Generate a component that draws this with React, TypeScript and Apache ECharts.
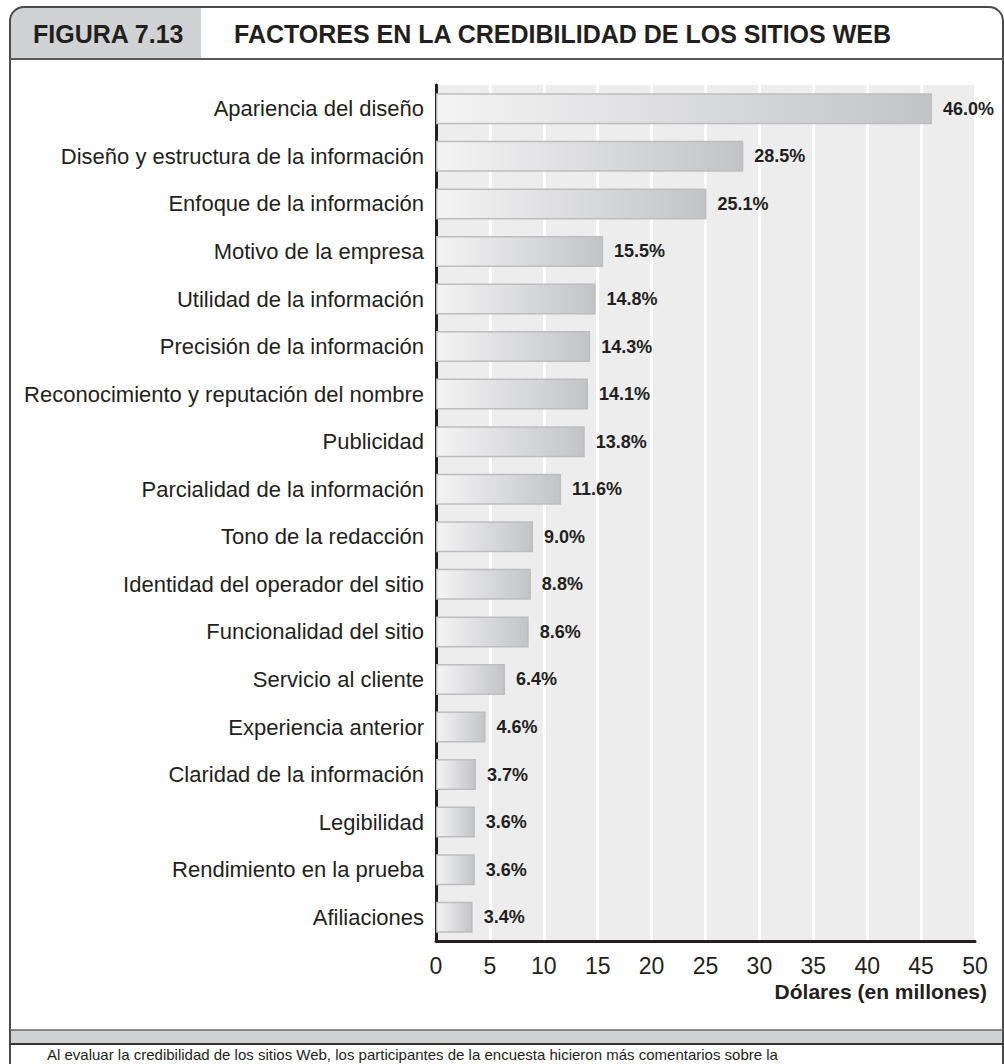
import React, { useEffect, useRef } from "react";
import * as echarts from "echarts";

const categories = [
  "Apariencia del diseño",
  "Diseño y estructura de la información",
  "Enfoque de la información",
  "Motivo de la empresa",
  "Utilidad de la información",
  "Precisión de la información",
  "Reconocimiento y reputación del nombre",
  "Publicidad",
  "Parcialidad de la información",
  "Tono de la redacción",
  "Identidad del operador del sitio",
  "Funcionalidad del sitio",
  "Servicio al cliente",
  "Experiencia anterior",
  "Claridad de la información",
  "Legibilidad",
  "Rendimiento en la prueba",
  "Afiliaciones",
];
const values = [46.0, 28.5, 25.1, 15.5, 14.8, 14.3, 14.1, 13.8, 11.6, 9.0, 8.8, 8.6, 6.4, 4.6, 3.7, 3.6, 3.6, 3.4];
const xTicks = { min: 0, max: 50, interval: 5 };
const figureLabel = "FIGURA 7.13";
const title = "FACTORES EN LA CREDIBILIDAD DE LOS SITIOS WEB";
const xAxisName = "Dólares (en millones)";
const footerText =
  "Al evaluar la credibilidad de los sitios Web, los participantes de la encuesta hicieron más comentarios sobre la";

const NARROW = '"Liberation Sans Narrow", "Liberation Sans", Arial, sans-serif';
const INK = "#231f20";

export default function App() {
  const ref = useRef<HTMLDivElement>(null);
  useEffect(() => {
    const chart = echarts.init(ref.current!, undefined, { renderer: "svg" });
    chart.setOption({
      animation: false,
      backgroundColor: "#ffffff",
      textStyle: { fontFamily: NARROW },
      grid: {
        left: 436,
        right: 29,
        top: 85,
        bottom: 123,
        show: true,
        backgroundColor: "#ededed",
        borderWidth: 0,
      },
      xAxis: {
        type: "value",
        min: xTicks.min,
        max: xTicks.max,
        interval: xTicks.interval,
        axisLine: { show: true, lineStyle: { color: INK, width: 3 } },
        axisTick: { show: false },
        splitLine: { show: true, lineStyle: { color: "#ffffff", width: 3 } },
        axisLabel: { fontSize: 23, color: INK, margin: 13, fontFamily: NARROW },
        name: xAxisName,
        nameLocation: "end",
        nameGap: 12,
        nameTextStyle: {
          fontSize: 21,
          fontWeight: "bold",
          color: INK,
          align: "right",
          verticalAlign: "top",
          padding: [40, 0, 0, 0],
          fontFamily: NARROW,
        },
      },
      yAxis: {
        type: "category",
        inverse: true,
        data: categories,
        axisLine: { show: true, lineStyle: { color: INK, width: 3 } },
        axisTick: { show: false },
        splitLine: { show: false },
        axisLabel: { fontSize: 22, color: INK, margin: 12, fontFamily: NARROW },
      },
      series: [
        {
          type: "bar",
          data: values,
          barWidth: 31,
          itemStyle: {
            color: new echarts.graphic.LinearGradient(0, 0, 1, 0, [
              { offset: 0, color: "#f4f4f5" },
              { offset: 1, color: "#c3c4c6" },
            ]),
            borderColor: "#bdbdbf",
            borderWidth: 1.5,
          },
          label: {
            show: true,
            position: "right",
            distance: 11,
            formatter: (p: any) => Number(p.value).toFixed(1) + "%",
            fontSize: 18,
            fontWeight: "bold",
            color: INK,
            fontFamily: NARROW,
          },
        },
      ],
      graphic: [
        {
          type: "rect",
          z: 10,
          shape: { x: 11, y: 7, width: 190, height: 52, r: [13, 0, 0, 0] },
          style: { fill: "#d1d2d4" },
        },
        {
          type: "rect",
          z: 11,
          shape: { x: 10, y: 7, width: 993, height: 1120, r: [14, 14, 0, 0] },
          style: { fill: "none", stroke: "#4a4a4a", lineWidth: 2 },
        },
        {
          type: "line",
          z: 11,
          shape: { x1: 10, y1: 59, x2: 1004, y2: 59 },
          style: { stroke: "#5a5a5a", lineWidth: 2 },
        },
        {
          type: "text",
          z: 12,
          x: 33,
          y: 34,
          style: {
            text: figureLabel,
            font: `bold 25px ${NARROW}`,
            fill: INK,
            verticalAlign: "middle",
          },
        },
        {
          type: "text",
          z: 12,
          x: 234,
          y: 34,
          style: {
            text: title,
            font: `bold 25px ${NARROW}`,
            fill: INK,
            verticalAlign: "middle",
          },
        },
        {
          type: "rect",
          z: 10,
          shape: { x: 11, y: 1030, width: 993, height: 14 },
          style: { fill: "#d1d2d4" },
        },
        {
          type: "line",
          z: 11,
          shape: { x1: 10, y1: 1030, x2: 1004, y2: 1030 },
          style: { stroke: "#666666", lineWidth: 1.5 },
        },
        {
          type: "line",
          z: 11,
          shape: { x1: 10, y1: 1044, x2: 1004, y2: 1044 },
          style: { stroke: "#333333", lineWidth: 2 },
        },
        {
          type: "text",
          z: 12,
          x: 47,
          y: 1047,
          style: {
            text: footerText,
            font: `15px ${NARROW}`,
            fill: INK,
            verticalAlign: "top",
          },
        },
      ],
    });
    return () => chart.dispose();
  }, []);
  return (
    <div
      ref={ref}
      style={{ position: "absolute", left: 0, top: 0, width: 1004, height: 1064 }}
    />
  );
}
